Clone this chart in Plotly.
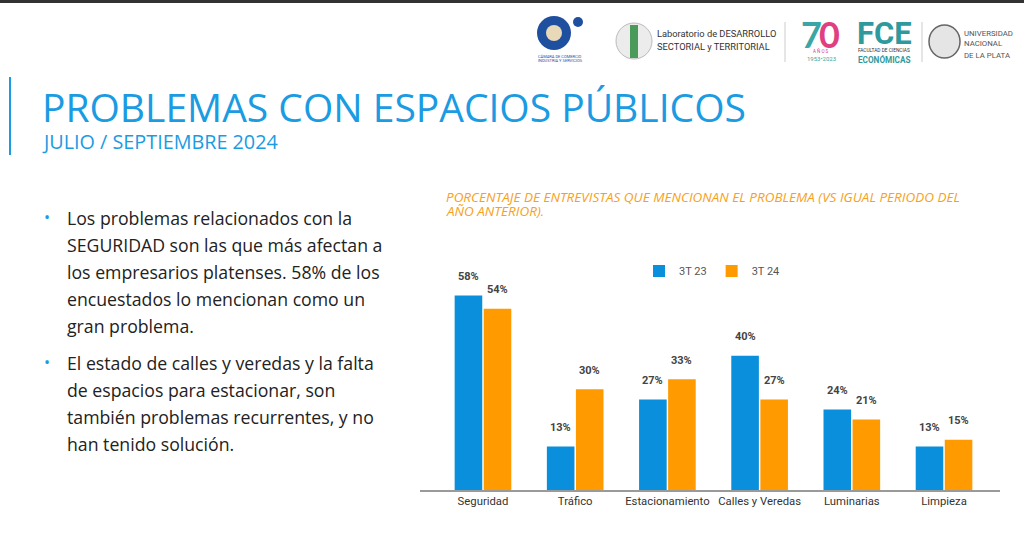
import plotly.graph_objects as go

categories = ["Seguridad", "Tráfico", "Estacionamiento", "Calles y Veredas", "Luminarias", "Limpieza"]
series_names = ["3T 23", "3T 24"]
values_3t23 = [58, 13, 27, 40, 24, 13]
values_3t24 = [54, 30, 33, 27, 21, 15]

title_text = "PROBLEMAS CON ESPACIOS PÚBLICOS"
subtitle_text = "JULIO / SEPTIEMBRE 2024"
chart_title_lines = ["PORCENTAJE DE ENTREVISTAS QUE MENCIONAN EL PROBLEMA (VS IGUAL PERIODO DEL",
                     "AÑO ANTERIOR)."]
bullet1_lines = ["Los problemas relacionados con la",
                 "SEGURIDAD son las que más afectan a",
                 "los empresarios platenses. 58% de los",
                 "encuestados lo mencionan como un",
                 "gran problema."]
bullet2_lines = ["El estado de calles y veredas y la falta",
                 "de espacios para estacionar, son",
                 "también problemas recurrentes, y no",
                 "han tenido solución."]

BLUE = "#0a8fdc"
ORANGE = "#ff9a00"
TITLE_BLUE = "#1a9be2"
TEAL = "#2f9a9e"
W, H = 1024, 534

fig = go.Figure()
fig.add_trace(go.Bar(x=categories, y=values_3t23, name=series_names[0], marker_color=BLUE,
                     marker_line_width=0))
fig.add_trace(go.Bar(x=categories, y=values_3t24, name=series_names[1], marker_color=ORANGE,
                     marker_line_width=0))

def px(x):
    return x / W

def py(y):
    return 1 - y / H

ann = []
# value labels
for vals, shift in ((values_3t23, -14.5), (values_3t24, 14.5)):
    for c, v in zip(categories, vals):
        ann.append(dict(x=c, y=v, xref="x", yref="y", text=f"<b>{v}%</b>", showarrow=False,
                        xshift=shift, yshift=19, xanchor="center", yanchor="middle",
                        font=dict(family="Roboto, Arial", size=11, color="#444")))

# titles
ann.append(dict(x=px(40), y=py(106), xref="paper", yref="paper", text=title_text, showarrow=False,
                xanchor="left", yanchor="middle", font=dict(family="Open Sans", size=39, color=TITLE_BLUE)))
ann.append(dict(x=px(40), y=py(141), xref="paper", yref="paper", text=subtitle_text, showarrow=False,
                xanchor="left", yanchor="middle", font=dict(family="Open Sans", size=19.8, color=TITLE_BLUE)))

for i, line in enumerate(chart_title_lines):
    ann.append(dict(x=px(445), y=py(197 + 14 * i), xref="paper", yref="paper", text=f"<i>{line}</i>",
                    showarrow=False, xanchor="left", yanchor="middle", borderpad=0,
                    font=dict(family="Open Sans", size=13.5, color="#f7a11a")))

for start, lines in ((218, bullet1_lines), (363, bullet2_lines)):
    ann.append(dict(x=px(42), y=py(start - 1), xref="paper", yref="paper", text="•", showarrow=False,
                    xanchor="left", yanchor="middle", font=dict(family="Open Sans", size=16, color=TITLE_BLUE)))
    for i, line in enumerate(lines):
        ann.append(dict(x=px(65), y=py(start + 27 * i), xref="paper", yref="paper", text=line,
                        showarrow=False, xanchor="left", yanchor="middle",
                        font=dict(family="Open Sans", size=17.7, color="#222")))

# logos (text approximations)
LF = "Roboto"
logo_ann = [
    dict(x=px(560), y=py(56), text="CÁMARA DE COMERCIO", font=dict(family=LF, size=4, color="#2a4b9b")),
    dict(x=px(560), y=py(61), text="INDUSTRIA Y SERVICIOS", font=dict(family=LF, size=4, color="#2a4b9b")),
    dict(x=px(655), y=py(33), text="Laboratorio de DESARROLLO", xanchor="left",
         font=dict(family=LF, size=9.3, color="#333")),
    dict(x=px(655), y=py(47), text="SECTORIAL y TERRITORIAL", xanchor="left",
         font=dict(family=LF, size=9.3, color="#333")),
    dict(x=px(811), y=py(34), text="<b>7</b>", font=dict(family="Lato", size=36, color="#3aa6a6")),
    dict(x=px(829), y=py(34), text="<b>0</b>", font=dict(family="Lato", size=36, color="#e0407f")),
    dict(x=px(821), y=py(51), text="A Ñ O S", font=dict(family=LF, size=4.5, color="#d0408a")),
    dict(x=px(821), y=py(58), text="1953•2023", font=dict(family=LF, size=6, color="#3aa6a6")),
    dict(x=px(884), y=py(33), text="<b>FCE</b>", font=dict(family=LF, size=31, color=TEAL)),
    dict(x=px(884), y=py(50), text="FACULTAD DE CIENCIAS", font=dict(family=LF, size=4.8, color="#333")),
    dict(x=px(884), y=py(59), text="<b>ECONÓMICAS</b>", font=dict(family=LF, size=8.2, color=TEAL)),
    dict(x=px(962), y=py(33), text="UNIVERSIDAD", xanchor="left", font=dict(family=LF, size=7.8, color="#555")),
    dict(x=px(962), y=py(44), text="NACIONAL", xanchor="left", font=dict(family=LF, size=7.8, color="#555")),
    dict(x=px(962), y=py(55), text="DE LA PLATA", xanchor="left", font=dict(family=LF, size=7.8, color="#555")),
]
for a in logo_ann:
    a.setdefault("xanchor", "center")
    a.update(xref="paper", yref="paper", showarrow=False, yanchor="middle")
ann += logo_ann

shapes = [
    dict(type="rect", xref="paper", yref="paper", x0=0, x1=1, y0=py(3), y1=1, fillcolor="#333", line_width=0),
    dict(type="line", xref="paper", yref="paper", x0=px(10), x1=px(10), y0=py(77), y1=py(155),
         line=dict(color=TITLE_BLUE, width=2)),
    # camara logo
    dict(type="circle", xref="paper", yref="paper", x0=px(537), x1=px(571), y0=py(50), y1=py(16),
         fillcolor="#1f4f9f", line_width=0),
    dict(type="circle", xref="paper", yref="paper", x0=px(546), x1=px(562), y0=py(41), y1=py(25),
         fillcolor="#e8d9b8", line_width=0),
    dict(type="circle", xref="paper", yref="paper", x0=px(573), x1=px(583), y0=py(27), y1=py(17),
         fillcolor="#1f4f9f", line_width=0),
    # lab globe
    dict(type="circle", xref="paper", yref="paper", x0=px(616), x1=px(652), y0=py(59), y1=py(23),
         fillcolor="#ececec", line=dict(color="#bbb", width=1)),
    dict(type="rect", xref="paper", yref="paper", x0=px(630), x1=px(638), y0=py(58), y1=py(25),
         fillcolor="#4a9a5a", line_width=0),
    dict(type="line", xref="paper", yref="paper", x0=px(785), x1=px(785), y0=py(22), y1=py(62),
         line=dict(color="#ccc", width=1)),
    dict(type="line", xref="paper", yref="paper", x0=px(922), x1=px(922), y0=py(22), y1=py(62),
         line=dict(color="#ccc", width=1)),
    dict(type="circle", xref="paper", yref="paper", x0=px(929), x1=px(960), y0=py(58), y1=py(25),
         fillcolor="#e5e5e5", line=dict(color="#666", width=1.5)),
]

fig.update_layout(
    width=W, height=H, margin=dict(l=0, r=0, t=0, b=0),
    paper_bgcolor="white", plot_bgcolor="white",
    barmode="group", bargap=0.37, bargroupgap=0.05,
    font=dict(family="Roboto, Arial", color="#333"),
    xaxis=dict(domain=[px(420), px(1000)], range=[-0.683, 5.607], showline=True, linecolor="#9a9a9a",
               linewidth=1.5, ticks="", tickfont=dict(size=11.3, color="#333"), showgrid=False),
    yaxis=dict(domain=[py(490), py(282)], range=[0, 62], visible=False, showgrid=False),
    legend=dict(orientation="h", x=px(712), y=py(271), xanchor="center", yanchor="middle",
                font=dict(size=11, color="#555"), itemwidth=30, traceorder="normal"),
    annotations=ann, shapes=shapes,
)

fig.write_html("out.html", config={"displayModeBar": False},
               post_script="document.body.style.margin='0';")
